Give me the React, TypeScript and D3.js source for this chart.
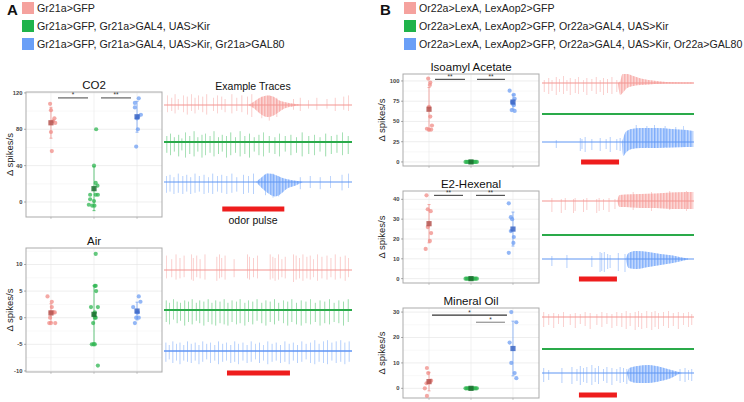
import React from 'react';
import * as d3 from 'd3';

const W = 744, H = 402;
const FONT = 'Liberation Sans, Arial, sans-serif';
const groups = ['ctrl', 'kir', 'rescue'];

const legendA = ['Gr21a>GFP', 'Gr21a>GFP, Gr21a>GAL4, UAS>Kir', 'Gr21a>GFP, Gr21a>GAL4, UAS>Kir, Gr21a>GAL80'];
const legendB = ['Or22a>LexA, LexAop2>GFP', 'Or22a>LexA, LexAop2>GFP, Or22a>GAL4, UAS>Kir', 'Or22a>LexA, LexAop2>GFP, Or22a>GAL4, UAS>Kir, Or22a>GAL80'];
const legendColors = ['#f5a29e', '#1fb34b', '#6a9ff7'];
const ptColors = ['#f08c87', '#2fb551', '#6f9ff3'];
const meanColors = ['#b4534f', '#1c6e30', '#3c66c4'];
const traceColors = ['#f7a4a0', '#45c064', '#74a6fa'];
const traceBase = ['#f39691', '#2aaa4a', '#5f95f4'];

// [value, jitter]
const co2Ctrl = [[108, -0.02], [101, 0], [92, 0.08], [89, 0.05], [87, 0.1], [77, 0], [56, 0.02]];
const co2Kir = [[80, 0.05], [40, 0], [21, 0.04], [18, 0.08], [8, -0.09], [8, 0.04], [8, 0.09], [3, -0.09], [1, 0], [-3, -0.12], [-4, -0.04], [-4, 0.01]];
const co2Res = [[114, 0.04], [109, -0.05], [104, -0.05], [96, 0.09], [94, 0.03], [92, 0], [80, 0.02], [61, -0.02]];

const airCtrl = [[4, -0.08], [3, 0.02], [2, 0.02], [1, 0], [1, 0.06], [1, 0.09], [0, -0.02], [-1, -0.04], [-1, 0.1], [-1, 0]];
const airKir = [[12, 0.04], [6, 0.02], [6, 0.04], [5, 0.05], [2, -0.07], [2, 0.09], [1, 0.02], [0.5, 0], [0, 0.02], [0, 0.04], [-1, -0.02], [-5, -0.05], [-5, -0.01], [-5, 0.02], [-9, 0.09]];
const airRes = [[4, 0.04], [3, 0.08], [2, -0.09], [1, 0], [1, 0.02], [0, -0.02], [0, 0.04], [-1, -0.05]];

const zeroKir = [[0, -0.13], [0, -0.1], [0, -0.07], [0, -0.04], [0, -0.01], [0, 0.02], [0, 0.05], [0, 0.08], [0, 0.11], [0, 0.14]];

const iaCtrl = [[103, -0.02], [98, 0.03], [95, 0.02], [68, 0], [56, 0.03], [45, 0.07], [41, -0.05], [40, 0], [40, 0.05]];
const iaRes = [[88, -0.08], [83, 0.02], [78, 0.04], [74, -0.02], [72, 0], [70, 0.02], [64, -0.03], [63, 0.04]];

const e2Ctrl = [[42, -0.06], [35, -0.03], [34, 0.04], [26, -0.03], [23, 0.05], [19, 0.02], [15, -0.08]];
const e2Res = [[38, -0.1], [31, -0.05], [30, -0.02], [24, -0.05], [21, 0.02], [18, 0.01], [13, -0.1]];

const moCtrl = [[8, -0.05], [6, -0.02], [3, 0.05], [2.5, 0], [2, -0.06], [0, -0.1], [-3, -0.05]];
const moRes = [[30, -0.04], [26, 0.08], [18, -0.08], [10, -0.04], [6, 0.04], [4, 0.08]];

// Traces: spikes [t, up, down], envelopes [t, up, down]
const aCo2PinkSp = [[0.18, .8, .6], [0.41, .6, .5], [0.59, .9, .7], [0.76, .5, .4], [1.03, .8, .6], [1.24, .7, .8], [1.47, .9, .5], [1.65, .6, .7], [1.83, .8, .4], [2.06, .7, .6], [2.27, .9, .8], [2.63, .6, .5], [2.84, .8, .7], [3.07, .7, .4], [3.25, .5, .6], [3.61, .9, .7], [3.87, .6, .5], [4.14, .8, .6], [4.44, .7, .8], [4.67, .9, 1.0], [5.2, .7, 1.1], [5.6, .8, 1.3], [6.0, .6, 1.0], [6.89, .5, .4], [7.25, .6, .5], [7.69, .4, .3], [8.13, .6, .4], [8.67, .5, .3], [9.11, .6, .5], [9.56, .7, .4], [9.82, .8, .5]];
const aCo2PinkEnv = [[4.5, 0, 0], [4.8, .3, .3], [5.1, .6, .7], [5.5, .8, 1.0], [5.8, .7, .9], [6.1, .4, .6], [6.4, .25, .3], [6.9, .1, .1], [7.3, 0, 0]];
const aCo2GreenSp = [[0.15, .5, .9], [0.35, .7, 1.1], [0.55, .4, .8], [0.78, .6, 1.2], [0.95, .3, .7], [1.15, .8, 1.3], [1.37, .5, 1.0], [1.6, .9, 1.2], [1.8, .4, .8], [2.02, .6, 1.3], [2.2, .7, 1.1], [2.45, .5, .9], [2.66, .9, 1.2], [2.9, .4, 1.0], [3.1, .6, .8], [3.32, .5, 1.3], [3.55, .8, 1.1], [3.8, .4, .9], [4.05, .9, 1.2], [4.3, .5, 1.0], [4.55, .7, 1.3], [4.8, .4, .8], [5.05, .6, 1.1], [5.3, .8, 1.2], [5.6, .5, .9], [5.9, .4, 1.0], [6.15, .7, 1.2], [6.45, .5, .8], [6.75, .6, 1.1], [7.05, .4, .9], [7.35, .8, 1.2], [7.7, .5, 1.0], [8.0, .6, 1.1], [8.3, .4, .8], [8.6, .7, 1.2], [8.9, .5, 1.0], [9.2, .6, .9], [9.5, .8, 1.1], [9.8, .5, 1.0]];
const aCo2BlueSp = [[0.14, .5, .9], [0.32, .6, .8], [0.53, .4, 1.0], [0.76, .7, .9], [1.0, .5, 1.0], [1.21, .6, .8], [1.42, .4, 1.0], [1.65, .7, .9], [1.88, .5, .8], [2.13, .6, 1.0], [2.36, .4, .9], [2.59, .7, 1.0], [2.84, .5, .8], [3.07, .6, .9], [3.34, .5, 1.0], [3.61, .7, .9], [3.87, .4, .8], [4.23, .6, 1.0], [4.49, .5, .9], [4.76, .7, 1.0], [5.4, .6, 1.1], [5.8, .7, 1.3], [6.1, .5, 1.2], [7.25, .4, .6], [7.78, .5, .5], [8.31, .4, .6], [8.85, .5, .5], [9.47, .6, .7], [9.82, .7, .5]];
const aCo2BlueEnv = [[4.9, 0, 0], [5.2, .4, .5], [5.5, .7, .9], [5.9, .6, 1.2], [6.2, .4, 1.0], [6.5, .25, .6], [7.0, .1, .3], [7.4, 0, 0]];

const aAirPinkSp = [[0.14, 1.2, .7], [0.41, .9, .6], [0.64, 1.3, .8], [0.85, 1.0, .7], [1.07, 1.2, .6], [1.47, 1.3, .8], [1.56, 1.0, .9], [1.74, 1.2, .6], [1.92, .9, .7], [2.18, 1.3, .8], [2.81, 1.1, .9], [2.95, 1.3, .7], [3.07, 1.0, .6], [3.25, 1.2, .8], [3.73, .9, .6], [4.44, 1.3, .7], [4.55, 1.1, .8], [4.76, 1.0, .6], [4.97, 1.2, .7], [5.65, 1.3, .8], [5.79, 1.1, .7], [5.91, 1.0, .9], [6.09, 1.3, .8], [6.27, .9, .6], [6.45, 1.1, .7], [6.89, 1.3, 1.0], [7.03, 1.2, .8], [7.21, 1.0, .7], [7.39, 1.3, .9], [7.6, 1.1, .7], [7.78, 1.2, .8], [7.96, .9, .6], [8.17, 1.3, .9], [8.4, 1.1, .7], [8.67, 1.2, .8], [8.88, 1.0, .6], [9.11, 1.3, .8], [9.38, 1.1, .7], [9.64, 1.2, .9], [9.82, 1.0, .6]];
const aAirGreenSp = [[0.12, .8, 1.0], [0.3, .6, 1.2], [0.5, .9, .8], [0.7, .7, 1.1], [0.88, .6, .9], [1.1, .8, 1.3], [1.3, .7, 1.0], [1.5, .9, 1.2], [1.72, .6, .9], [1.9, .8, 1.1], [2.12, .7, 1.3], [2.35, .9, 1.0], [2.55, .6, 1.2], [2.75, .8, 1.3], [2.98, .7, 1.1], [3.2, .9, 1.2], [3.4, .6, 1.3], [3.62, .8, 1.0], [3.85, .7, 1.2], [4.05, .9, 1.1], [4.3, .6, 1.3], [4.5, .8, 1.0], [4.72, .7, 1.2], [4.95, .9, .9], [5.2, .6, 1.1], [5.42, .8, 1.3], [5.65, .7, 1.0], [5.88, .9, 1.2], [6.1, .6, .9], [6.35, .8, 1.1], [6.58, .7, 1.3], [6.8, .9, 1.0], [7.05, .6, 1.2], [7.3, .8, 1.3], [7.55, .7, 1.1], [7.8, .9, 1.2], [8.05, .6, 1.0], [8.3, .8, 1.3], [8.55, .7, 1.1], [8.8, .9, 1.2], [9.05, .6, 1.0], [9.3, .8, 1.1], [9.55, .7, 1.3], [9.8, .9, 1.0]];
const aAirBlueSp = [[0.1, .7, .9], [0.28, .5, .7], [0.47, .8, 1.0], [0.66, .6, .8], [0.85, .7, 1.1], [1.05, .5, .8], [1.25, .8, .9], [1.45, .6, 1.0], [1.66, .7, .8], [1.86, .5, 1.1], [2.06, .8, .9], [2.27, .6, .7], [2.48, .7, 1.0], [2.7, .5, .8], [2.9, .8, 1.1], [3.12, .6, .9], [3.33, .7, .8], [3.55, .5, 1.0], [3.76, .8, .9], [3.97, .6, 1.1], [4.2, .7, .8], [4.42, .5, 1.0], [4.64, .8, .9], [4.86, .6, .7], [5.08, .7, 1.0], [5.3, .5, .8], [5.52, .8, 1.1], [5.75, .6, .9], [5.97, .7, .8], [6.2, .5, 1.0], [6.43, .8, .9], [6.66, .6, 1.1], [6.88, .7, .8], [7.1, .5, 1.0], [7.33, .8, .9], [7.56, .6, .7], [7.8, .7, 1.0], [8.02, .9, 1.1], [8.25, .6, .9], [8.48, .8, 1.0], [8.7, .9, 1.1], [8.93, .7, .8], [9.16, .8, 1.0], [9.4, .9, .9], [9.62, .7, 1.1], [9.85, .8, .9]];

const bIaPinkSp = [[0.15, .3, .9], [0.44, .5, 1.1], [0.66, .3, .8], [0.94, .6, 1.2], [1.16, .4, .9], [1.42, .7, 1.1], [1.64, .3, .8], [1.86, .5, 1.2], [2.19, .4, 1.0], [2.41, .6, 1.1], [2.74, .3, .9], [2.95, .5, 1.2], [3.28, .4, .8], [3.57, .6, 1.1], [3.83, .3, .9], [4.05, .5, 1.2], [4.31, .4, 1.0], [4.6, .6, 1.1], [4.92, .3, .9]];
const bIaPinkEnv = [[5.0, 0, 0], [5.15, .2, 1.2], [5.3, .9, 1.0], [5.6, .9, .5], [6.0, .7, .3], [6.5, .45, .2], [7.0, .3, .15], [7.8, .15, .08], [8.5, .08, .05], [9.95, .05, .05]];
const bIaBlueSp = [[0.94, .2, .6], [2.52, .4, .9], [2.63, .3, .7], [2.84, .5, 1.0], [3.28, .3, .8], [3.83, .4, .9], [4.22, .3, .7], [4.49, .5, 1.0], [4.92, .3, .8], [5.14, .4, .9], [6.2, 1.7, .6], [6.9, 1.6, .5], [7.4, 1.7, .6], [8.1, 1.6, .5], [8.8, 1.5, .5], [9.3, 1.6, .5]];
const bIaBlueEnv = [[5.25, 0, 0], [5.35, .4, 1.4], [5.5, 1.0, 1.1], [5.9, 1.3, .7], [6.5, 1.4, .6], [7.5, 1.4, .6], [8.5, 1.3, .55], [9.5, 1.2, .5], [9.95, 1.1, .5]];

const bE2PinkSp = [[0.65, .3, 1.1], [1.27, .2, 1.2], [1.53, .3, .9], [2.07, .2, 1.2], [2.18, .3, 1.0], [2.73, .2, 1.1], [2.95, .3, .9], [3.6, .2, 1.2], [3.76, .3, 1.0], [4.04, .2, .9], [4.41, .3, 1.1], [4.8, .2, .8], [6.0, .9, .9], [7.2, .9, 1.0], [8.4, 1.0, .9], [9.5, 1.0, 1.0]];
const bE2PinkEnv = [[4.95, 0, 0], [5.1, .6, .6], [5.5, .65, .6], [6.5, .7, .7], [7.5, .75, .7], [8.5, .85, .8], [9.5, .9, .8], [9.95, .9, .8]];
const bE2BlueSp = [[0.65, .3, .7], [1.64, .4, .9], [3.28, .3, .8], [3.82, .7, 1.3], [3.93, .6, 1.2], [4.1, .7, 1.3], [4.32, .5, 1.0], [4.48, .4, .9], [5.02, .6, 1.2], [5.46, .5, 1.3]];
const bE2BlueEnv = [[5.5, 0, 0], [5.7, .6, .9], [6.2, .8, 1.0], [7.0, .7, .8], [7.8, .5, .6], [8.6, .35, .4], [9.2, .15, .2], [9.6, .05, .05]];

const bMoPinkSp = [[0.11, .5, 1.0], [0.44, .3, .8], [0.77, .4, 1.1], [1.09, .3, .7], [1.42, .5, 1.0], [1.86, .3, .8], [2.19, .4, 1.1], [2.52, .3, .7], [2.84, .5, .9], [3.17, .4, 1.2], [3.61, .3, .8], [3.94, .5, 1.0], [4.27, .4, .7], [4.6, .3, 1.1], [4.92, .5, .9], [5.25, .4, 1.0], [5.54, .6, 1.2], [5.8, .4, .9], [6.13, .5, 1.3], [6.35, .6, 1.0], [6.56, .4, 1.2], [6.89, .6, 1.1], [7.22, .5, 1.3], [7.44, .6, 1.0], [7.66, .4, 1.2], [7.99, .5, .9], [8.32, .6, 1.1], [8.64, .4, .9], [8.97, .5, 1.2], [9.3, .4, .8], [9.63, .5, 1.0], [9.85, .3, .8]];
const bMoBlueSp = [[0.11, .5, .9], [0.44, .3, .7], [1.31, .5, 1.0], [1.97, .6, 1.1], [2.3, .4, .8], [2.52, .7, 1.2], [2.74, .5, .9], [2.95, .6, 1.0], [3.28, .8, 1.2], [3.5, .5, .9], [3.72, .7, 1.1], [4.05, .4, .8], [4.27, .6, 1.0], [4.6, .5, 1.2], [4.92, .4, .8], [5.14, .6, 1.0], [5.36, .5, .9], [5.58, .4, 1.1], [9.08, .4, .8], [9.41, .5, .9], [9.63, .3, .7], [9.85, .4, .8]];
const bMoBlueEnv = [[5.6, 0, 0], [5.75, .5, .8], [6.3, .7, 1.0], [7.0, .8, 1.0], [7.8, .6, .8], [8.5, .3, .5], [9.0, .1, .1], [9.2, 0, 0]];

const pulseCo2 = [3.1, 6.4];
const pulseAir = [3.35, 6.7];
const pulseIa = [2.57, 5.07];
const pulseE2 = [2.43, 4.93];
const pulseMo = [2.43, 4.93];

type Pt = number[];
type Box = { l: number; r: number; t: number; b: number; pad: number };
type Bracket = { g1: number; g2: number; v: number; label: string; color: string; inset1: number; inset2: number };

function stats(d: Pt[]) {
  const vals = d.map(p => p[0]);
  const m = d3.mean(vals) as number;
  const sd = vals.length > 1 ? (d3.deviation(vals) as number) : 0;
  return { m, sd };
}

function Dots({ box, dom, major, minor, title, tsize, sets, brackets, ylabX }: { box: Box; dom: number[]; major: number[]; minor: number[]; title: string; tsize: number; sets: Pt[][]; brackets: Bracket[]; ylabX: number }) {
  const x = d3.scalePoint<string>().domain(groups).range([box.l, box.r]).padding(box.pad);
  const y = d3.scaleLinear().domain(dom).range([box.b, box.t]);
  const st = x.step();
  return (
    <g fontFamily={FONT}>
      <rect x={box.l} y={box.t} width={box.r - box.l} height={box.b - box.t} fill="#fff" />
      {minor.map(v => <line key={'mi' + v} x1={box.l} x2={box.r} y1={y(v)} y2={y(v)} stroke="#f1f1f1" strokeWidth={0.5} />)}
      {major.map(v => <line key={'ma' + v} x1={box.l} x2={box.r} y1={y(v)} y2={y(v)} stroke="#e2e2e2" strokeWidth={0.6} />)}
      {groups.map(g => <line key={'v' + g} x1={x(g)} x2={x(g)} y1={box.t} y2={box.b} stroke="#e8e8e8" strokeWidth={0.6} />)}
      <rect x={box.l} y={box.t} width={box.r - box.l} height={box.b - box.t} fill="none" stroke="#ababab" strokeWidth={1} />
      {major.map(v => (
        <g key={'t' + v}>
          <line x1={box.l - 2} x2={box.l} y1={y(v)} y2={y(v)} stroke="#777" strokeWidth={0.6} />
          <text x={box.l - 3.5} y={y(v) + 2} fontSize={5.8} fontWeight={700} fill="#444" textAnchor="end">{v}</text>
        </g>
      ))}
      {groups.map(g => <line key={'xt' + g} x1={x(g)} x2={x(g)} y1={box.b} y2={box.b + 2} stroke="#999" strokeWidth={0.5} />)}
      <text x={(box.l + box.r) / 2} y={box.t - 3.5} fontSize={tsize} textAnchor="middle" fill="#111">{title}</text>
      <text transform={`translate(${ylabX},${(box.t + box.b) / 2}) rotate(-90)`} fontSize={9.5} textAnchor="middle" fill="#222">Δ spikes/s</text>
      {sets.map((d, gi) => {
        const cx = x(groups[gi]) as number;
        const { m, sd } = stats(d);
        return (
          <g key={'s' + gi}>
            {sd > 0 && (
              <g stroke={ptColors[gi]} strokeWidth={0.8} opacity={0.9}>
                <line x1={cx} x2={cx} y1={y(m + sd)} y2={y(m - sd)} />
                <line x1={cx - 1.5} x2={cx + 1.5} y1={y(m + sd)} y2={y(m + sd)} />
                <line x1={cx - 1.5} x2={cx + 1.5} y1={y(m - sd)} y2={y(m - sd)} />
              </g>
            )}
            {d.map((p, i) => <circle key={i} cx={cx + p[1] * st} cy={y(p[0])} r={2.1} fill={ptColors[gi]} opacity={0.75} />)}
            <rect x={cx - 2.6} y={y(m) - 2.6} width={5.2} height={5.2} fill={meanColors[gi]} opacity={0.85} />
          </g>
        );
      })}
      {brackets.map((b, i) => {
        const xa = (x(groups[b.g1]) as number) + b.inset1;
        const xb = (x(groups[b.g2]) as number) - b.inset2;
        return (
          <g key={'b' + i}>
            <line x1={xa} x2={xb} y1={y(b.v)} y2={y(b.v)} stroke={b.color} strokeWidth={1.1} />
            <text x={(xa + xb) / 2} y={y(b.v) - 0.5} fontSize={6.5} textAnchor="middle" fill="#333">{b.label}</text>
          </g>
        );
      })}
    </g>
  );
}

function Trace({ x0, x1, y, h, ci, spikes, env, bw }: { x0: number; x1: number; y: number; h: number; ci: number; spikes: number[][]; env?: number[][]; bw: number }) {
  const xs = d3.scaleLinear().domain([0, 10]).range([x0, x1]);
  const ys = d3.scaleLinear().domain([-1, 1]).range([y + h, y - h]);
  const area = d3.area<number[]>().x(d => xs(d[0])).y0(d => ys(-d[2])).y1(d => ys(d[1])).curve(d3.curveMonotoneX);
  const base = d3.line<number>().x(t => xs(t)).y(() => ys(0));
  return (
    <g>
      {env && <path d={area(env) as string} fill={traceColors[ci]} opacity={0.35} />}
      {env && <path d={area(env) as string} fill={`url(#hatch${ci})`} opacity={0.9} />}
      {spikes.map((s, i) => <line key={i} x1={xs(s[0])} x2={xs(s[0])} y1={ys(s[1])} y2={ys(-s[2])} stroke={traceColors[ci]} strokeWidth={0.7} opacity={0.75} />)}
      <path d={base([0, 10]) as string} stroke={traceBase[ci]} strokeWidth={bw} fill="none" />
    </g>
  );
}

function Pulse({ x0, x1, y, p }: { x0: number; x1: number; y: number; p: number[] }) {
  const xs = d3.scaleLinear().domain([0, 10]).range([x0, x1]);
  return <rect x={xs(p[0])} y={y - 2.5} width={xs(p[1]) - xs(p[0])} height={5} fill="#ee1d1d" />;
}

function Legend({ x, items, fs }: { x: number; items: string[]; fs: number }) {
  return (
    <g fontFamily={FONT}>
      {items.map((s, i) => (
        <g key={i}>
          <rect x={x} y={2 + 18 * i} width={12} height={12} fill={legendColors[i]} />
          <text x={x + 15} y={11.5 + 18 * i} fontSize={fs} fill="#222">{s}</text>
        </g>
      ))}
    </g>
  );
}

export default function App() {
  const boxCo2: Box = { l: 26, r: 162, t: 92, b: 217, pad: 0.58 };
  const boxAir: Box = { l: 26, r: 162, t: 248, b: 372, pad: 0.58 };
  const boxIa: Box = { l: 403, r: 539, t: 74, b: 166, pad: 0.62 };
  const boxE2: Box = { l: 403, r: 539, t: 191, b: 283, pad: 0.62 };
  const boxMo: Box = { l: 403, r: 539, t: 308, b: 398, pad: 0.62 };
  const ax0 = 164, ax1 = 352, bx0 = 542, bx1 = 694;
  return (
    <svg width={W} height={H} style={{ position: 'absolute', left: 0, top: 0, background: '#fff' }}>
      <defs>
        {traceColors.map((c, i) => (
          <pattern key={i} id={`hatch${i}`} width={1.5} height={6} patternUnits="userSpaceOnUse">
            <rect x={0} y={0} width={0.75} height={6} fill={c} />
          </pattern>
        ))}
      </defs>
      <rect width={W} height={H} fill="#fff" />
      <text x={7} y={15} fontFamily={FONT} fontWeight={700} fontSize={15} fill="#111">A</text>
      <text x={380} y={15} fontFamily={FONT} fontWeight={700} fontSize={15} fill="#111">B</text>
      <Legend x={22} items={legendA} fs={10.7} />
      <Legend x={404} items={legendB} fs={10.6} />

      <Dots box={boxCo2} dom={[-16.5, 121]} major={[0, 40, 80, 120]} minor={[20, 60, 100]} title="CO2" tsize={11.5}
        sets={[co2Ctrl, co2Kir, co2Res]} ylabX={13}
        brackets={[{ g1: 0, g2: 1, v: 114.5, label: '*', color: '#555', inset1: 7, inset2: 6 }, { g1: 1, g2: 2, v: 114.5, label: '**', color: '#555', inset1: 7, inset2: 6 }]} />
      <Dots box={boxAir} dom={[-10.2, 13.1]} major={[-10, -5, 0, 5, 10]} minor={[-7.5, -2.5, 2.5, 7.5, 12.5]} title="Air" tsize={11.5}
        sets={[airCtrl, airKir, airRes]} ylabX={13} brackets={[]} />
      <Dots box={boxIa} dom={[-5, 108.6]} major={[0, 25, 50, 75, 100]} minor={[12.5, 37.5, 62.5, 87.5]} title="Isoamyl Acetate" tsize={11.5}
        sets={[iaCtrl, zeroKir, iaRes]} ylabX={385}
        brackets={[{ g1: 0, g2: 1, v: 102, label: '**', color: '#444', inset1: 6, inset2: 6 }, { g1: 1, g2: 2, v: 102, label: '**', color: '#444', inset1: 6, inset2: 8 }]} />
      <Dots box={boxE2} dom={[-2.2, 44.2]} major={[0, 10, 20, 30, 40]} minor={[5, 15, 25, 35]} title="E2-Hexenal" tsize={11.5}
        sets={[e2Ctrl, zeroKir, e2Res]} ylabX={385}
        brackets={[{ g1: 0, g2: 1, v: 42, label: '**', color: '#444', inset1: 5, inset2: 8 }, { g1: 1, g2: 2, v: 42, label: '**', color: '#444', inset1: 5, inset2: 8 }]} />
      <Dots box={boxMo} dom={[-3.8, 31.6]} major={[0, 10, 20, 30]} minor={[5, 15, 25]} title="Mineral Oil" tsize={11.5}
        sets={[moCtrl, zeroKir, moRes]} ylabX={385}
        brackets={[{ g1: 0, g2: 2, v: 28.8, label: '*', color: '#333', inset1: 3, inset2: 6 }, { g1: 1, g2: 2, v: 26, label: '*', color: '#888', inset1: 5, inset2: 8 }]} />

      <text x={253} y={90} fontFamily={FONT} fontSize={10.5} textAnchor="middle" fill="#111">Example Traces</text>
      <Trace x0={ax0} x1={ax1} y={105} h={12} ci={0} spikes={aCo2PinkSp} env={aCo2PinkEnv} bw={1.1} />
      <Trace x0={ax0} x1={ax1} y={142} h={12} ci={1} spikes={aCo2GreenSp} bw={2} />
      <Trace x0={ax0} x1={ax1} y={182} h={12} ci={2} spikes={aCo2BlueSp} env={aCo2BlueEnv} bw={1.2} />
      <Pulse x0={ax0} x1={ax1} y={209} p={pulseCo2} />
      <text x={253} y={224} fontFamily={FONT} fontSize={10.5} textAnchor="middle" fill="#111">odor pulse</text>

      <Trace x0={ax0} x1={ax1} y={270} h={12} ci={0} spikes={aAirPinkSp} bw={1.1} />
      <Trace x0={ax0} x1={ax1} y={310} h={12} ci={1} spikes={aAirGreenSp} bw={2} />
      <Trace x0={ax0} x1={ax1} y={351} h={12} ci={2} spikes={aAirBlueSp} bw={1.4} />
      <Pulse x0={ax0} x1={ax1} y={373} p={pulseAir} />

      <Trace x0={bx0} x1={bx1} y={83} h={10} ci={0} spikes={bIaPinkSp} env={bIaPinkEnv} bw={1.1} />
      <Trace x0={bx0} x1={bx1} y={114} h={10} ci={1} spikes={[]} bw={1.8} />
      <Trace x0={bx0} x1={bx1} y={142} h={10} ci={2} spikes={bIaBlueSp} env={bIaBlueEnv} bw={1.2} />
      <Pulse x0={bx0} x1={bx1} y={162} p={pulseIa} />

      <Trace x0={bx0} x1={bx1} y={201} h={10} ci={0} spikes={bE2PinkSp} env={bE2PinkEnv} bw={1.1} />
      <Trace x0={bx0} x1={bx1} y={235} h={10} ci={1} spikes={[]} bw={1.8} />
      <Trace x0={bx0} x1={bx1} y={259} h={10} ci={2} spikes={bE2BlueSp} env={bE2BlueEnv} bw={1.2} />
      <Pulse x0={bx0} x1={bx1} y={279} p={pulseE2} />

      <Trace x0={bx0} x1={bx1} y={317} h={10} ci={0} spikes={bMoPinkSp} bw={1.1} />
      <Trace x0={bx0} x1={bx1} y={349} h={10} ci={1} spikes={[]} bw={1.8} />
      <Trace x0={bx0} x1={bx1} y={373} h={10} ci={2} spikes={bMoBlueSp} env={bMoBlueEnv} bw={1.2} />
      <Pulse x0={bx0} x1={bx1} y={395} p={pulseMo} />
    </svg>
  );
}
